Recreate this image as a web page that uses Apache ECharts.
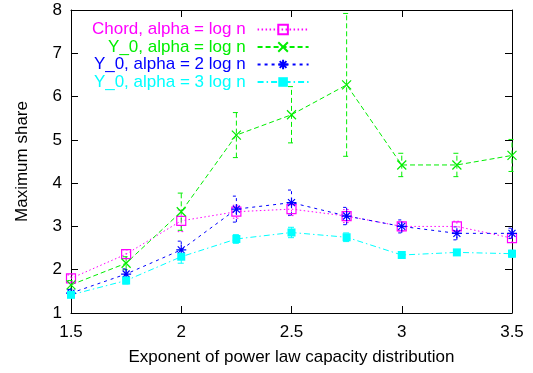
<!DOCTYPE html>
<html>
<head>
<meta charset="utf-8">
<script src="https://cdn.jsdelivr.net/npm/echarts@6/dist/echarts.min.js"></script>
<style>html,body{margin:0;padding:0;background:#fff}#c{width:533px;height:373px}</style>
</head>
<body>
<div id="c"></div>
<script>
// ---- data ----
const exponents = [1.5, 1.75, 2.0, 2.25, 2.5, 2.75, 3.0, 3.25, 3.5];
const xTicks = [1.5, 2, 2.5, 3, 3.5];
const yTicks = [1, 2, 3, 4, 5, 6, 7, 8];

const chordName = 'Chord, alpha = log n';
const chordVals = [1.80, 2.36, 3.13, 3.34, 3.40, 3.24, 3.00, 3.00, 2.73];
const chordErr  = [0.08, 0.10, 0.25, 0.15, 0.15, 0.15, 0.10, 0.12, 0.10];

const y0Name = 'Y_0, alpha = log n';
const y0Vals = [1.65, 2.15, 3.34, 5.11, 5.58, 6.27, 4.42, 4.42, 4.64];
const y0Err  = [0.10, 0.15, 0.43, 0.52, 0.65, 1.65, 0.27, 0.27, 0.37];

const y02Name = 'Y_0, alpha = 2 log n';
const y02Vals = [1.46, 1.90, 2.46, 3.40, 3.55, 3.24, 3.00, 2.84, 2.84];
const y02Err  = [0.08, 0.12, 0.20, 0.30, 0.29, 0.20, 0.15, 0.15, 0.12];

const y03Name = 'Y_0, alpha = 3 log n';
const y03Vals = [1.42, 1.75, 2.30, 2.71, 2.86, 2.75, 2.34, 2.40, 2.37];
const y03Err  = [0.06, 0.08, 0.15, 0.10, 0.12, 0.10, 0.05, 0.05, 0.08];

// ---- styles ----
const FONT = '"Liberation Sans", Arial, Helvetica, sans-serif';
const defs = [
  {name: chordName, vals: chordVals, err: chordErr, color: '#ff00ff', dash: [1.5, 2.5],
   symbol: 'path://M0,0H10V10H0Z', size: 9, filled: false},
  {name: y0Name, vals: y0Vals, err: y0Err, color: '#00ee00', dash: [5, 3],
   symbol: 'path://M0,0L10,10M10,0L0,10', size: 9, filled: false},
  {name: y02Name, vals: y02Vals, err: y02Err, color: '#0000ff', dash: [3, 4],
   symbol: 'path://M5,0L5,10M0,5L10,5M1.5,1.5L8.5,8.5M8.5,1.5L1.5,8.5', size: 10, filled: false},
  {name: y03Name, vals: y03Vals, err: y03Err, color: '#00ffff', dash: [6, 3, 1.5, 3],
   symbol: 'rect', size: 8, filled: true}
];

const series = [];
defs.forEach(d => {
  series.push({
    name: d.name + ' err',
    type: 'custom',
    clip: false,
    silent: true,
    data: exponents.map((x, i) => [x, d.vals[i] - d.err[i], d.vals[i] + d.err[i]]),
    encode: {x: 0, y: [1, 2]},
    renderItem: function (params, api) {
      const x = api.value(0), lo = api.value(1), hi = api.value(2);
      const a = api.coord([x, lo]), b = api.coord([x, hi]);
      const w = 3.5;
      const st = {stroke: d.color, lineWidth: 1, lineDash: d.dash, fill: null};
      return {type: 'group', children: [
        {type: 'line', shape: {x1: a[0], y1: a[1], x2: b[0], y2: b[1]}, style: st},
        {type: 'line', shape: {x1: a[0] - w, y1: a[1], x2: a[0] + w, y2: a[1]}, style: st},
        {type: 'line', shape: {x1: b[0] - w, y1: b[1], x2: b[0] + w, y2: b[1]}, style: st}
      ]};
    }
  });
});
defs.forEach(d => {
  series.push({
    name: d.name,
    type: 'line',
    data: exponents.map((x, i) => [x, d.vals[i]]),
    symbol: d.symbol,
    symbolSize: d.size,
    showAllSymbol: true,
    clip: false,
    lineStyle: {color: d.color, width: 1, type: d.dash},
    itemStyle: d.filled ? {color: d.color, borderWidth: 0}
                        : {color: 'none', borderColor: d.color, borderWidth: 1.2},
    emphasis: {disabled: true}
  });
});

const chart = echarts.init(document.getElementById('c'), null, {renderer: 'canvas'});
const axisCommon = {
  axisLine: {show: true, lineStyle: {color: '#000', width: 1}},
  axisTick: {show: true, inside: true, length: 7, lineStyle: {color: '#000', width: 1}},
  splitLine: {show: false}
};
chart.setOption({
  animation: false,
  backgroundColor: '#fff',
  textStyle: {fontFamily: FONT},
  grid: {left: 71, right: 21, top: 10, bottom: 60},
  legend: {
    orient: 'vertical',
    align: 'right',
    left: 87,
    top: 16,
    itemWidth: 51,
    itemHeight: 12,
    itemGap: 0.5,
    selectedMode: false,
    textStyle: {fontFamily: FONT, fontSize: 17, lineHeight: 17, padding: [0, 7, 0, 0]},
    data: defs.map(d => ({name: d.name, textStyle: {color: d.color}}))
  },
  xAxis: [
    Object.assign({
      type: 'value', min: xTicks[0], max: xTicks[xTicks.length - 1], interval: 0.5,
      position: 'bottom',
      name: 'Exponent of power law capacity distribution',
      nameLocation: 'middle', nameGap: 36,
      nameTextStyle: {fontSize: 17, color: '#000', fontFamily: FONT},
      axisLabel: {fontSize: 17, color: '#000', margin: 11, fontFamily: FONT}
    }, axisCommon),
    Object.assign({
      type: 'value', min: xTicks[0], max: xTicks[xTicks.length - 1], interval: 0.5,
      position: 'top', axisLabel: {show: false}
    }, axisCommon)
  ],
  yAxis: [
    Object.assign({
      type: 'value', min: yTicks[0], max: yTicks[yTicks.length - 1], interval: 1,
      position: 'left',
      name: 'Maximum share',
      nameLocation: 'middle', nameGap: 40,
      nameTextStyle: {fontSize: 17, color: '#000', fontFamily: FONT},
      axisLabel: {fontSize: 17, color: '#000', margin: 9, fontFamily: FONT}
    }, axisCommon),
    Object.assign({
      type: 'value', min: yTicks[0], max: yTicks[yTicks.length - 1], interval: 1,
      position: 'right', axisLabel: {show: false}
    }, axisCommon)
  ],
  series: series
});
</script>
</body>
</html>
